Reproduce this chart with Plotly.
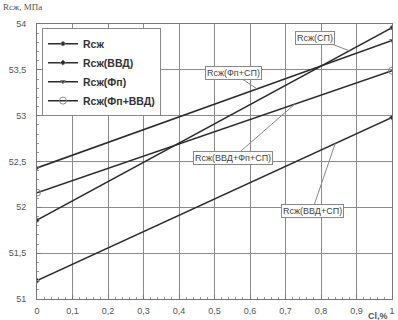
import plotly.graph_objects as go

cl = [0, 1]
r_base = [51.86, 53.96]      # Rcж  (СП)
r_vvd = [51.20, 52.98]       # Rcж(ВВД)  (ВВД+СП)
r_fp = [52.43, 53.82]        # Rcж(Фп)  (Фп+СП)
r_fp_vvd = [52.16, 53.49]    # Rcж(Фп+ВВД)  (ВВД+Фп+СП)

names = ["Rcж", "Rcж(ВВД)", "Rcж(Фп)", "Rcж(Фп+ВВД)"]
series = [r_base, r_vvd, r_fp, r_fp_vvd]
symbols = ["circle", "diamond", "triangle-down", "circle-open"]
sizes = [4, 4, 4, 7]

x_ticks = [0, 0.1, 0.2, 0.3, 0.4, 0.5, 0.6, 0.7, 0.8, 0.9, 1]
y_ticks = [51, 51.5, 52, 52.5, 53, 53.5, 54]

# callout labels: text, series index, x position on line, pixel offsets of box
callouts = [
    ("Rcж(СП)", 0, 0.88, -34, -13),
    ("Rcж(Фп+СП)", 2, 0.62, -24, -16),
    ("Rcж(ВВД+Фп+СП)", 3, 0.726, -62, 54),
    ("Rcж(ВВД+СП)", 1, 0.84, -23, 67),
]

LINE = "#2b2b2b"
fig = go.Figure()
for n, s, sym, sz in zip(names, series, symbols, sizes):
    fig.add_trace(go.Scatter(
        x=cl, y=s, name=n, mode="lines+markers",
        line=dict(color=LINE, width=1.5),
        marker=dict(symbol=sym, size=sz, color=LINE if sym != "circle-open" else "#888",
                    line=dict(color="#777", width=1)),
    ))

def interp(s, x):
    return s[0] + (s[1] - s[0]) * (x - cl[0]) / (cl[1] - cl[0])

anns = []
for text, idx, xv, ax, ay in callouts:
    anns.append(dict(
        x=xv, y=interp(series[idx], xv), xref="x", yref="y",
        text=text, showarrow=True, arrowhead=0, arrowwidth=1, arrowcolor="#888",
        ax=ax, ay=ay, axref="pixel", ayref="pixel",
        font=dict(family="Liberation Sans", size=9, color="#444"),
        bgcolor="white", bordercolor="#888", borderwidth=1, borderpad=1,
    ))
anns.append(dict(x=-0.04, y=1.06, xref="paper", yref="paper", text="Rcж, МПа",
                 showarrow=False, font=dict(family="Liberation Serif", size=9, color="#555"),
                 xanchor="center", yanchor="middle"))
anns.append(dict(x=0.96, y=-0.06, xref="paper", yref="paper", text="<b>Cl,%</b>",
                 showarrow=False, font=dict(family="Liberation Sans", size=9, color="#555"),
                 xanchor="center", yanchor="middle"))

axis_common = dict(
    showgrid=True, gridcolor="#8a8a8a", gridwidth=1,
    showline=True, linecolor="#777", linewidth=1, mirror=True,
    ticks="inside", ticklen=4, tickcolor="#777",
    tickfont=dict(family="Liberation Sans", size=9, color="#555"),
    zeroline=False,
)
fig.update_layout(
    width=398, height=320,
    margin=dict(l=37, r=3, t=24, b=21),
    paper_bgcolor="white", plot_bgcolor="white",
    separators=", ",
    showlegend=True,
    legend=dict(x=0.014, y=0.985, xanchor="left", yanchor="top",
                bgcolor="white", bordercolor="#888", borderwidth=1,
                font=dict(family="Liberation Sans", size=10.5, color="#333", weight="bold"),
                tracegroupgap=0, itemwidth=30),
    annotations=anns,
    xaxis=dict(range=[0, 1], tickvals=x_ticks, ticklabelstandoff=3,
               minor=dict(dtick=0.02, ticks="inside", ticklen=2, tickcolor="#999", showgrid=False),
               **axis_common),
    yaxis=dict(range=[51, 54], tickvals=y_ticks, ticklabelstandoff=8,
               minor=dict(dtick=0.1, ticks="inside", ticklen=2, tickcolor="#999", showgrid=False),
               **axis_common),
)
fig.write_html("out.html")
